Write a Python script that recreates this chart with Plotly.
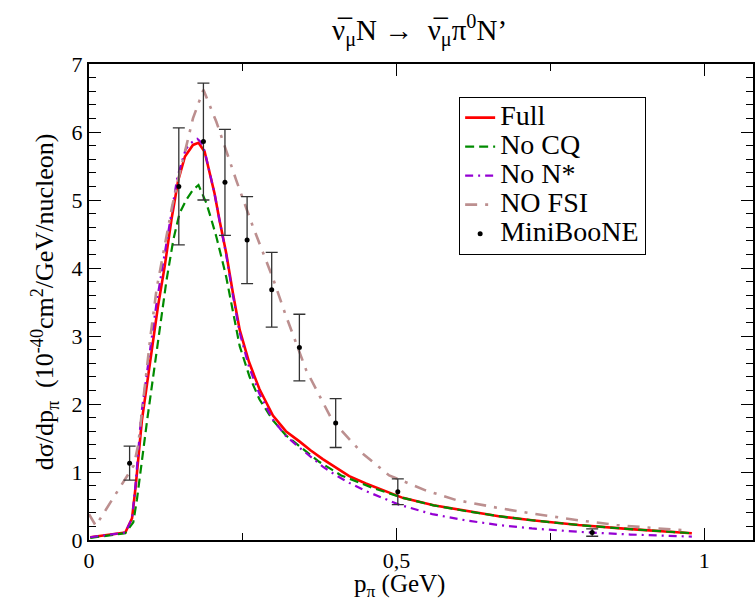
import plotly.graph_objects as go

# Full model
full_x = [0.002, 0.059, 0.070, 0.076, 0.086, 0.112, 0.123, 0.134, 0.145, 0.156, 0.169, 0.178,
          0.188, 0.196, 0.204, 0.212, 0.223, 0.234, 0.245, 0.260, 0.277, 0.299, 0.320, 0.342,
          0.360, 0.380, 0.400, 0.423, 0.450, 0.472, 0.510, 0.560, 0.610, 0.666, 0.720, 0.796,
          0.880, 0.980]
full_y = [0.04, 0.11, 0.32, 0.80, 1.76, 3.43, 4.02, 4.71, 5.29, 5.64, 5.81, 5.84,
          5.71, 5.39, 5.10, 4.71, 4.22, 3.63, 3.09, 2.62, 2.22, 1.83, 1.60, 1.45,
          1.32, 1.19, 1.07, 0.94, 0.83, 0.75, 0.62, 0.51, 0.43, 0.35, 0.29, 0.22,
          0.16, 0.10]

# Without the CQ contribution
nocq_x = [0.002, 0.059, 0.072, 0.078, 0.0945, 0.115, 0.126, 0.137, 0.147, 0.158, 0.169, 0.178,
          0.191, 0.199, 0.207, 0.215, 0.223, 0.231, 0.245, 0.261, 0.277, 0.299, 0.320, 0.342,
          0.374, 0.410, 0.460, 0.510, 0.560, 0.610, 0.666, 0.720, 0.796, 0.880, 0.980]
nocq_y = [0.03, 0.10, 0.26, 0.60, 1.76, 3.14, 3.82, 4.41, 4.80, 5.00, 5.15, 5.22,
          4.95, 4.71, 4.46, 4.17, 3.87, 3.50, 2.85, 2.40, 2.07, 1.76, 1.54, 1.38,
          1.15, 0.95, 0.77, 0.62, 0.51, 0.43, 0.35, 0.29, 0.22, 0.16, 0.10]

# Without N* resonances
nonst_x = [0.002, 0.059, 0.070, 0.076, 0.085, 0.110, 0.121, 0.133, 0.144, 0.157, 0.164, 0.176,
           0.182, 0.188, 0.196, 0.204, 0.212, 0.223, 0.234, 0.245, 0.260, 0.277, 0.299, 0.320,
           0.342, 0.360, 0.380, 0.400, 0.423, 0.450, 0.472, 0.504, 0.558, 0.612, 0.666, 0.720,
           0.796, 0.880, 0.980]
nonst_y = [0.04, 0.11, 0.32, 0.85, 1.85, 3.50, 4.10, 4.78, 5.35, 5.74, 5.83, 5.90,
           5.85, 5.72, 5.40, 5.10, 4.71, 4.20, 3.60, 3.05, 2.55, 2.15, 1.77, 1.53,
           1.36, 1.23, 1.08, 0.96, 0.84, 0.72, 0.64, 0.52, 0.38, 0.29, 0.22, 0.17,
           0.12, 0.08, 0.05]

# Without final state interactions
nofsi_x = [0.000, 0.011, 0.073, 0.080, 0.090, 0.100, 0.110, 0.122, 0.135, 0.145, 0.158, 0.169,
           0.186, 0.207, 0.239, 0.266, 0.299, 0.320, 0.353, 0.396, 0.445, 0.488, 0.547, 0.596,
           0.666, 0.720, 0.796, 0.858, 0.939, 0.975]
nofsi_y = [0.38, 0.21, 1.10, 1.40, 2.20, 3.00, 3.70, 4.30, 4.90, 5.30, 5.80, 6.20,
           6.62, 6.15, 5.30, 4.62, 3.85, 3.30, 2.50, 1.75, 1.27, 0.95, 0.73, 0.59,
           0.47, 0.39, 0.29, 0.22, 0.16, 0.14]

# MiniBooNE data
mb_x = [0.066, 0.146, 0.186, 0.221, 0.257, 0.297, 0.342, 0.401, 0.502, 0.818]
mb_y = [1.13, 5.20, 5.86, 5.26, 4.41, 3.68, 2.83, 1.72, 0.71, 0.11]
mb_err = [0.25, 0.86, 0.86, 0.78, 0.64, 0.55, 0.49, 0.36, 0.19, 0.055]

SERIF = "Liberation Serif"


def big(label):
    # legend rows stay compact (row height follows legend.font.size) while glyphs are larger
    return '<span style="font-size:28px">' + label + '</span>'


fig = go.Figure()
fig.add_trace(go.Scatter(x=full_x, y=full_y, mode="lines", name=big("Full"),
                         line=dict(color="#ff0000", width=2.6)))
fig.add_trace(go.Scatter(x=nocq_x, y=nocq_y, mode="lines", name=big("No CQ"),
                         line=dict(color="#008b00", width=2.2, dash="9px,5px")))
fig.add_trace(go.Scatter(x=nonst_x, y=nonst_y, mode="lines", name=big("No N*"),
                         line=dict(color="#9400d3", width=2.2, dash="8px,5px,2px,5px")))
fig.add_trace(go.Scatter(x=nofsi_x, y=nofsi_y, mode="lines", name=big("NO FSI"),
                         line=dict(color="#bc8f8f", width=2.6, dash="12px,8px,3px,8px")))
fig.add_trace(go.Scatter(x=mb_x, y=mb_y, mode="markers", name=big("MiniBooNE"),
                         marker=dict(color="black", size=5),
                         error_y=dict(type="data", array=mb_err, visible=True,
                                      color="#333333", thickness=1.3, width=6)))

axis_common = dict(
    showline=True, linecolor="black", linewidth=2, mirror="ticks",
    ticks="inside", tickcolor="black", tickwidth=1.3, ticklen=12,
    showgrid=False, zeroline=False,
    tickfont=dict(family=SERIF, size=22, color="black"),
)

fig.update_xaxes(range=[0, 1.0794], tickvals=[0, 0.5, 1], ticktext=["0", "0,5", "1"],
                 minor=dict(tickvals=[0.25, 0.75], ticklen=7, tickcolor="black",
                            ticks="inside", tickwidth=1.2),
                 **axis_common)
fig.update_yaxes(range=[0, 7], tickvals=[0, 1, 2, 3, 4, 5, 6, 7],
                 minor=dict(dtick=0.2, ticklen=7, tickcolor="black",
                            ticks="inside", tickwidth=1.2),
                 title=dict(text="dσ/dp<sub>π</sub>\u00a0\u00a0(10<sup>-40</sup>cm<sup>2</sup>/GeV/nucleon)",
                            font=dict(family=SERIF, size=26, color="black"), standoff=10),
                 **axis_common)

fig.update_layout(
    width=755, height=601,
    margin=dict(l=89, r=0, t=64, b=61),
    plot_bgcolor="white", paper_bgcolor="white",
    showlegend=True,
    legend=dict(x=0.557, y=0.931, xanchor="left", yanchor="top",
                bgcolor="white", bordercolor="black", borderwidth=1.3,
                font=dict(family=SERIF, size=20, color="black"),
                itemwidth=30, tracegroupgap=0),
    annotations=[
        dict(text="ν\u0305<sub>μ</sub>N → \u00a0ν\u0305<sub>μ</sub>π<sup>0</sup>N’",
             xref="paper", yref="paper", x=0.497, y=1.071,
             xanchor="center", yanchor="middle", showarrow=False,
             font=dict(family=SERIF, size=29, color="black")),
        dict(text="p<sub>π</sub> (GeV)", xref="paper", yref="paper",
             x=0.467, y=-0.096, xanchor="center", yanchor="middle", showarrow=False,
             font=dict(family=SERIF, size=25, color="black")),
    ],
)

fig.write_html("out.html")
